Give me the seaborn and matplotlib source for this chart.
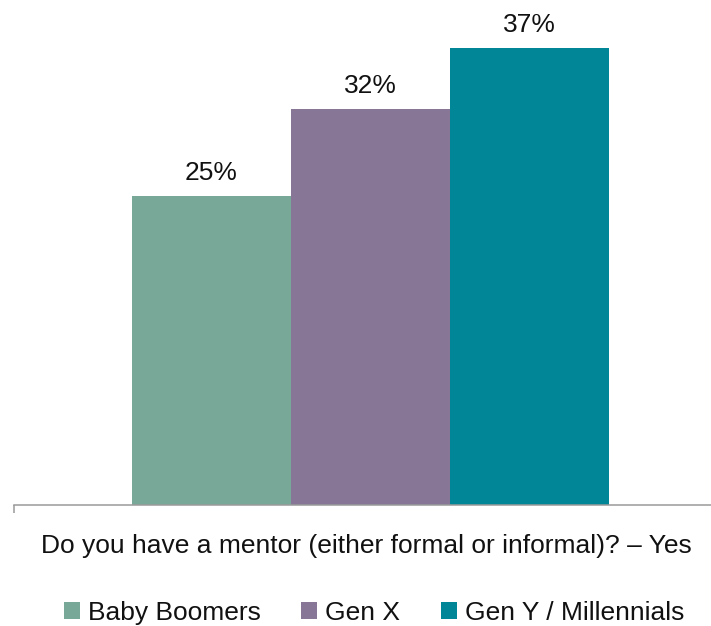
import matplotlib
matplotlib.use("Agg")
import matplotlib.pyplot as plt
import seaborn as sns
import pandas as pd

generations = ["Baby Boomers", "Gen X", "Gen Y / Millennials"]
shares = [25, 32, 37]
colors = ["#78A898", "#887696", "#008696"]
question = "Do you have a mentor (either formal or informal)? \u2013 Yes"

df = pd.DataFrame({"generation": generations, "share": shares})

sns.set_theme(style="white")
plt.rcParams["font.family"] = ["Liberation Sans", "DejaVu Sans"]

fig = plt.figure(figsize=(7.11, 6.26), dpi=100)
ax = fig.add_axes([14 / 711, 1 - 505 / 626, 1 - 14 / 711, 505 / 626])

sns.barplot(data=df, x="generation", y="share", hue="generation",
            palette=colors, width=1.0, saturation=1, linewidth=0,
            legend=True, ax=ax)

xmin = -1.242
ax.set_xlim(xmin, xmin + 697 / 159)
ax.set_ylim(0, 505 / 12.36)

for container in ax.containers:
    ax.bar_label(container, fmt="%d%%", padding=8, fontsize=19, color="#111111")

for side in ["top", "right", "left"]:
    ax.spines[side].set_visible(False)
ax.spines["bottom"].set_color("#9A9A9A")
ax.spines["bottom"].set_linewidth(1.1)

ax.set_yticks([])
ax.set_ylabel("")
ax.set_xticks([xmin])
ax.set_xticklabels([""])
ax.tick_params(axis="x", direction="out", length=6, width=1.1, color="#9A9A9A", bottom=True)

ax.set_xlabel(question, fontsize=19, color="#111111")
ax.xaxis.set_label_coords((366 - 14) / 697, -0.057)

sns.move_legend(ax, "center", bbox_to_anchor=(374 / 711, 1 - 613 / 626),
                bbox_transform=fig.transFigure, ncol=3, frameon=False, title=None,
                fontsize=19, handlelength=0.6, handleheight=0.6, handletextpad=0.3,
                columnspacing=1.55, labelcolor="#111111")

fig.savefig("out.png", dpi=100, facecolor="white")
